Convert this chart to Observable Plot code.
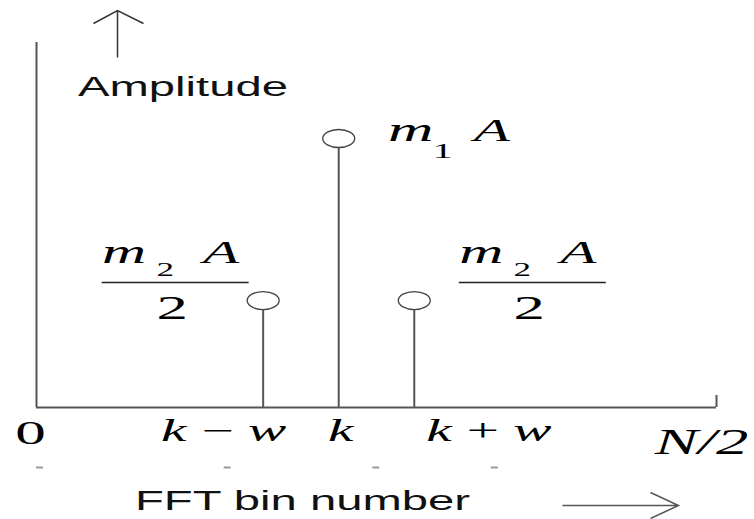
<!DOCTYPE html>
<html><head><meta charset="utf-8">
<script src="https://cdn.jsdelivr.net/npm/d3@7"></script>
<script src="https://cdn.jsdelivr.net/npm/@observablehq/plot@0.6"></script>
<style>html,body{margin:0;padding:0;background:#fff;} #chart{width:754px;height:519px;overflow:hidden}</style>
</head><body><div id="chart"></div>
<script>
// ---- data ----
const binPositions = [21, 28, 35];            // k - w, k, k + w  (N/2 = 63)
const binNames = ["k − w", "k", "k + w"];
const amplitudes = [0.293, 0.737, 0.293];     // m2·A/2, m1·A, m2·A/2 (relative)
const tickValues = [0, 21, 28, 35, 63];
const tickLabels = ["0", "k\u2009−\u2009w", "k", "k\u2009+\u2009w", "N/2"];
const centerLabelParts = ["m", "1", "A"];
const sideLabelParts = ["m", "2", "A", "2"];
const xMax = 63, yMax = 1;
const yAxisTitle = "Amplitude";
const xAxisTitle = "FFT bin number";

const spikes = binPositions.map((x, i) => ({x, name: binNames[i], amp: amplitudes[i]}));
const ticks = tickValues.map((x, i) => ({x, label: tickLabels[i]}));

// ---- glyphs ----
function ellipse(rx, ry) {
  const k = 0.5523;
  return {draw(c) {
    c.moveTo(rx, 0);
    c.bezierCurveTo(rx, ry * k, rx * k, ry, 0, ry);
    c.bezierCurveTo(-rx * k, ry, -rx, ry * k, -rx, 0);
    c.bezierCurveTo(-rx, -ry * k, -rx * k, -ry, 0, -ry);
    c.bezierCurveTo(rx * k, -ry, rx, -ry * k, rx, 0);
    c.closePath();
  }};
}
function hline(w) { return {draw(c) { c.moveTo(-w / 2, 0); c.lineTo(w / 2, 0); }}; }
const upArrow = {draw(c) { c.moveTo(0, 47); c.lineTo(0, 0); c.moveTo(-24, 13); c.lineTo(0, 0); c.lineTo(26, 13); }};
const rightArrow = {draw(c) { c.moveTo(-116, 0); c.lineTo(0, 0); c.moveTo(-28, -13); c.lineTo(0, 0); c.lineTo(-28, 13); }};

const serif = "Liberation Serif";
const sans = "Liberation Sans";
const ink = "#555";

// ---- marks ----
const marks = [
  // axes
  Plot.ruleX([0], {y1: 0, y2: yMax, stroke: ink, strokeWidth: 2}),
  Plot.ruleY([0], {x1: 0, x2: xMax, stroke: ink, strokeWidth: 2}),
  Plot.ruleX([xMax], {y1: 0, y2: 0.033, stroke: ink, strokeWidth: 2}),
  // stems and heads
  Plot.ruleX(spikes, {x: "x", y1: 0, y2: "amp", stroke: ink, strokeWidth: 2}),
  Plot.dot(spikes, {x: "x", y: "amp", symbol: ellipse(16, 9), r: 8, fill: "white", stroke: "#444", strokeWidth: 1.3}),
  // arrows and titles
  Plot.dot([0], {frameAnchor: "top-left", dx: 81, dy: -32, symbol: upArrow, r: 5, fill: "none", stroke: "#333", strokeWidth: 1.5}),
  Plot.dot([0], {frameAnchor: "bottom-right", dx: -38, dy: 98, symbol: rightArrow, r: 5, fill: "none", stroke: "#555", strokeWidth: 1.5}),
  Plot.text([yAxisTitle], {frameAnchor: "top-left", textAnchor: "middle", text: d => d, dx: 146.5, dy: 53, lineAnchor: "bottom", fontFamily: sans, fontSize: 27, fill: "#111"}),
  Plot.text([xAxisTitle], {frameAnchor: "bottom", textAnchor: "middle", text: d => d, dx: -74, dy: 102, lineAnchor: "bottom", fontFamily: sans, fontSize: 27, fill: "#111"})
];

// tick labels (hand-placed like the original drawing)
const labelOffsets = [[-6, 36], [-39.5, 33], [2, 33], [74.5, 33], [-15, 46]];
const labelSizes = [33, 31, 31, 31, 35];
ticks.forEach((t, i) => {
  marks.push(Plot.text([t], {x: "x", y: () => 0, text: "label", dx: labelOffsets[i][0], dy: labelOffsets[i][1],
    lineAnchor: "bottom", fontFamily: serif, fontStyle: i === 0 ? "normal" : "italic", fontSize: labelSizes[i], fill: "#000"}));
});
// stray small dashes below the labels
const dashOffsets = [3, -36, 37, 80];
ticks.slice(0, 4).forEach((t, i) => {
  marks.push(Plot.dot([t], {x: "x", y: () => 0, dx: dashOffsets[i], dy: 60, symbol: hline(7), r: 3, stroke: "#999", strokeWidth: 2}));
});

// m1 A at the centre spike
const c = [spikes[1]];
const sub = (data, text, dx, dy, size, style) => Plot.text(data, {x: "x", y: "amp", text: () => text, dx, dy,
  lineAnchor: "bottom", fontFamily: serif, fontStyle: style, fontSize: size, fill: "#000"});
marks.push(sub(c, centerLabelParts[0], 72, 3, 34, "italic"));
marks.push(sub(c, centerLabelParts[1], 104, 20, 22, "normal"));
marks.push(sub(c, centerLabelParts[2], 153, 3, 32, "italic"));

// m2 A / 2 fractions at the side spikes
const fraction = (d, off) => {
  marks.push(sub(d, sideLabelParts[0], off - 139, -38, 33, "italic"));
  marks.push(sub(d, sideLabelParts[1], off - 98, -25, 19, "normal"));
  marks.push(sub(d, sideLabelParts[2], off - 42, -38, 32, "italic"));
  marks.push(sub(d, sideLabelParts[3], off - 91, 18, 34, "normal"));
  marks.push(Plot.dot(d, {x: "x", y: "amp", dx: off - 88, dy: -18, symbol: hline(147), r: 5, stroke: "#222", strokeWidth: 1.5}));
};
fraction([spikes[0]], 0);
fraction([spikes[2]], 206);

const chart = Plot.plot({
  width: 754, height: 519,
  marginLeft: 36, marginRight: 38, marginTop: 42, marginBottom: 112,
  x: {domain: [0, xMax], axis: null},
  y: {domain: [0, yMax], axis: null},
  style: {background: "white", color: "black"},
  marks
});

// the original drawing is stretched horizontally: widen the glyphs around their anchors
chart.querySelectorAll("g[aria-label=text]").forEach(g => {
  const ff = g.getAttribute("font-family") || "";
  const s = ff.includes("Serif") ? 1.85 : 1.75;
  g.querySelectorAll("text").forEach(t => {
    const x = +t.getAttribute("x") || 0, y = +t.getAttribute("y") || 0;
    const tr = t.getAttribute("transform") || "";
    t.setAttribute("transform", `${tr} translate(${x},${y}) scale(${s},1) translate(${-x},${-y})`);
  });
});
document.getElementById("chart").appendChild(chart);
</script>
</body></html>
